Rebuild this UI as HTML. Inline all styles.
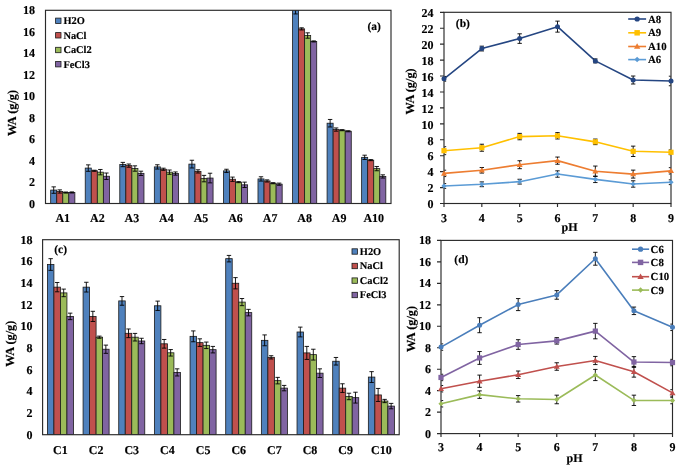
<!DOCTYPE html>
<html><head><meta charset="utf-8"><style>
html,body{margin:0;padding:0;background:#fff;}
body{width:685px;height:469px;overflow:hidden;}
svg{display:block;will-change:transform;}
text{font-family:"Liberation Serif", serif;font-weight:bold;fill:#000;text-rendering:geometricPrecision;stroke:#000;stroke-width:0.15px;}
</style></head><body>
<svg width="685" height="469" viewBox="0 0 685 469">
<rect width="685" height="469" fill="#fff"/>
<clipPath id="ca"><rect x="45.5" y="10.3" width="345.5" height="193.2"/></clipPath>
<g clip-path="url(#ca)">
<rect x="50.68" y="190.08" width="6.05" height="13.42" fill="#4F81BD" stroke="#1a1a1a" stroke-width="0.8"/>
<rect x="56.73" y="191.48" width="6.05" height="12.02" fill="#C0504D" stroke="#1a1a1a" stroke-width="0.8"/>
<rect x="62.78" y="192.55" width="6.05" height="10.95" fill="#9BBB59" stroke="#1a1a1a" stroke-width="0.8"/>
<rect x="68.82" y="192.44" width="6.05" height="11.06" fill="#8064A2" stroke="#1a1a1a" stroke-width="0.8"/>
<path d="M53.71 186.86V193.3M51.51 186.86H55.91M51.51 193.3H55.91" stroke="#000" stroke-width="0.9" fill="none"/>
<path d="M59.75 189.87V193.09M57.55 189.87H61.95M57.55 193.09H61.95" stroke="#000" stroke-width="0.9" fill="none"/>
<path d="M65.8 192.02V193.09M63.6 192.02H68M63.6 193.09H68" stroke="#000" stroke-width="0.9" fill="none"/>
<path d="M71.84 191.91V192.98M69.64 191.91H74.04M69.64 192.98H74.04" stroke="#000" stroke-width="0.9" fill="none"/>
<rect x="85.23" y="168.08" width="6.05" height="35.42" fill="#4F81BD" stroke="#1a1a1a" stroke-width="0.8"/>
<rect x="91.28" y="170.76" width="6.05" height="32.74" fill="#C0504D" stroke="#1a1a1a" stroke-width="0.8"/>
<rect x="97.32" y="172.16" width="6.05" height="31.34" fill="#9BBB59" stroke="#1a1a1a" stroke-width="0.8"/>
<rect x="103.37" y="176.24" width="6.05" height="27.26" fill="#8064A2" stroke="#1a1a1a" stroke-width="0.8"/>
<path d="M88.26 164.86V171.3M86.06 164.86H90.46M86.06 171.3H90.46" stroke="#000" stroke-width="0.9" fill="none"/>
<path d="M94.3 170.23V171.3M92.1 170.23H96.5M92.1 171.3H96.5" stroke="#000" stroke-width="0.9" fill="none"/>
<path d="M100.35 169.48V174.84M98.15 169.48H102.55M98.15 174.84H102.55" stroke="#000" stroke-width="0.9" fill="none"/>
<path d="M106.39 173.02V179.46M104.19 173.02H108.59M104.19 179.46H108.59" stroke="#000" stroke-width="0.9" fill="none"/>
<rect x="119.78" y="164.54" width="6.05" height="38.96" fill="#4F81BD" stroke="#1a1a1a" stroke-width="0.8"/>
<rect x="125.83" y="165.61" width="6.05" height="37.89" fill="#C0504D" stroke="#1a1a1a" stroke-width="0.8"/>
<rect x="131.88" y="168.51" width="6.05" height="34.99" fill="#9BBB59" stroke="#1a1a1a" stroke-width="0.8"/>
<rect x="137.92" y="173.34" width="6.05" height="30.16" fill="#8064A2" stroke="#1a1a1a" stroke-width="0.8"/>
<path d="M122.81 162.39V166.68M120.61 162.39H125.01M120.61 166.68H125.01" stroke="#000" stroke-width="0.9" fill="none"/>
<path d="M128.85 164V167.22M126.65 164H131.05M126.65 167.22H131.05" stroke="#000" stroke-width="0.9" fill="none"/>
<path d="M134.9 165.83V171.19M132.7 165.83H137.1M132.7 171.19H137.1" stroke="#000" stroke-width="0.9" fill="none"/>
<path d="M140.94 171.19V175.49M138.74 171.19H143.14M138.74 175.49H143.14" stroke="#000" stroke-width="0.9" fill="none"/>
<rect x="154.33" y="166.9" width="6.05" height="36.6" fill="#4F81BD" stroke="#1a1a1a" stroke-width="0.8"/>
<rect x="160.38" y="169.26" width="6.05" height="34.24" fill="#C0504D" stroke="#1a1a1a" stroke-width="0.8"/>
<rect x="166.42" y="172.16" width="6.05" height="31.34" fill="#9BBB59" stroke="#1a1a1a" stroke-width="0.8"/>
<rect x="172.47" y="173.55" width="6.05" height="29.95" fill="#8064A2" stroke="#1a1a1a" stroke-width="0.8"/>
<path d="M157.36 164.75V169.05M155.16 164.75H159.56M155.16 169.05H159.56" stroke="#000" stroke-width="0.9" fill="none"/>
<path d="M163.4 168.19V170.33M161.2 168.19H165.6M161.2 170.33H165.6" stroke="#000" stroke-width="0.9" fill="none"/>
<path d="M169.45 170.01V174.31M167.25 170.01H171.65M167.25 174.31H171.65" stroke="#000" stroke-width="0.9" fill="none"/>
<path d="M175.49 171.94V175.16M173.29 171.94H177.69M173.29 175.16H177.69" stroke="#000" stroke-width="0.9" fill="none"/>
<rect x="188.88" y="164.11" width="6.05" height="39.39" fill="#4F81BD" stroke="#1a1a1a" stroke-width="0.8"/>
<rect x="194.93" y="171.41" width="6.05" height="32.09" fill="#C0504D" stroke="#1a1a1a" stroke-width="0.8"/>
<rect x="200.97" y="178.6" width="6.05" height="24.9" fill="#9BBB59" stroke="#1a1a1a" stroke-width="0.8"/>
<rect x="207.02" y="178.06" width="6.05" height="25.44" fill="#8064A2" stroke="#1a1a1a" stroke-width="0.8"/>
<path d="M191.91 160.24V167.97M189.71 160.24H194.11M189.71 167.97H194.11" stroke="#000" stroke-width="0.9" fill="none"/>
<path d="M197.95 169.8V173.02M195.75 169.8H200.15M195.75 173.02H200.15" stroke="#000" stroke-width="0.9" fill="none"/>
<path d="M204 175.38V181.82M201.8 175.38H206.2M201.8 181.82H206.2" stroke="#000" stroke-width="0.9" fill="none"/>
<path d="M210.04 173.23V182.89M207.84 173.23H212.24M207.84 182.89H212.24" stroke="#000" stroke-width="0.9" fill="none"/>
<rect x="223.43" y="170.87" width="6.05" height="32.63" fill="#4F81BD" stroke="#1a1a1a" stroke-width="0.8"/>
<rect x="229.48" y="179.24" width="6.05" height="24.26" fill="#C0504D" stroke="#1a1a1a" stroke-width="0.8"/>
<rect x="235.52" y="182.14" width="6.05" height="21.36" fill="#9BBB59" stroke="#1a1a1a" stroke-width="0.8"/>
<rect x="241.57" y="184.82" width="6.05" height="18.68" fill="#8064A2" stroke="#1a1a1a" stroke-width="0.8"/>
<path d="M226.46 169.26V172.48M224.26 169.26H228.66M224.26 172.48H228.66" stroke="#000" stroke-width="0.9" fill="none"/>
<path d="M232.5 177.1V181.39M230.3 177.1H234.7M230.3 181.39H234.7" stroke="#000" stroke-width="0.9" fill="none"/>
<path d="M238.55 181.6V182.68M236.35 181.6H240.75M236.35 182.68H240.75" stroke="#000" stroke-width="0.9" fill="none"/>
<path d="M244.59 182.14V187.51M242.39 182.14H246.79M242.39 187.51H246.79" stroke="#000" stroke-width="0.9" fill="none"/>
<rect x="257.98" y="178.92" width="6.05" height="24.58" fill="#4F81BD" stroke="#1a1a1a" stroke-width="0.8"/>
<rect x="264.03" y="180.96" width="6.05" height="22.54" fill="#C0504D" stroke="#1a1a1a" stroke-width="0.8"/>
<rect x="270.07" y="183.21" width="6.05" height="20.29" fill="#9BBB59" stroke="#1a1a1a" stroke-width="0.8"/>
<rect x="276.12" y="184.18" width="6.05" height="19.32" fill="#8064A2" stroke="#1a1a1a" stroke-width="0.8"/>
<path d="M261.01 176.77V181.07M258.81 176.77H263.21M258.81 181.07H263.21" stroke="#000" stroke-width="0.9" fill="none"/>
<path d="M267.05 179.89V182.03M264.85 179.89H269.25M264.85 182.03H269.25" stroke="#000" stroke-width="0.9" fill="none"/>
<path d="M273.1 182.68V183.75M270.9 182.68H275.3M270.9 183.75H275.3" stroke="#000" stroke-width="0.9" fill="none"/>
<path d="M279.14 183.11V185.25M276.94 183.11H281.34M276.94 185.25H281.34" stroke="#000" stroke-width="0.9" fill="none"/>
<rect x="292.53" y="9.23" width="6.05" height="194.27" fill="#4F81BD" stroke="#1a1a1a" stroke-width="0.8"/>
<rect x="298.58" y="28.87" width="6.05" height="174.63" fill="#C0504D" stroke="#1a1a1a" stroke-width="0.8"/>
<rect x="304.62" y="35.52" width="6.05" height="167.98" fill="#9BBB59" stroke="#1a1a1a" stroke-width="0.8"/>
<rect x="310.67" y="41.43" width="6.05" height="162.07" fill="#8064A2" stroke="#1a1a1a" stroke-width="0.8"/>
<path d="M295.56 4.5V13.95M293.36 4.5H297.76M293.36 13.95H297.76" stroke="#000" stroke-width="0.9" fill="none"/>
<path d="M301.6 27.8V29.94M299.4 27.8H303.8M299.4 29.94H303.8" stroke="#000" stroke-width="0.9" fill="none"/>
<path d="M307.65 32.84V38.21M305.45 32.84H309.85M305.45 38.21H309.85" stroke="#000" stroke-width="0.9" fill="none"/>
<path d="M313.69 40.89V41.96M311.49 40.89H315.89M311.49 41.96H315.89" stroke="#000" stroke-width="0.9" fill="none"/>
<rect x="327.08" y="123.21" width="6.05" height="80.29" fill="#4F81BD" stroke="#1a1a1a" stroke-width="0.8"/>
<rect x="333.13" y="129.55" width="6.05" height="73.95" fill="#C0504D" stroke="#1a1a1a" stroke-width="0.8"/>
<rect x="339.17" y="130.19" width="6.05" height="73.31" fill="#9BBB59" stroke="#1a1a1a" stroke-width="0.8"/>
<rect x="345.22" y="131.26" width="6.05" height="72.24" fill="#8064A2" stroke="#1a1a1a" stroke-width="0.8"/>
<path d="M330.11 119.46V126.97M327.91 119.46H332.31M327.91 126.97H332.31" stroke="#000" stroke-width="0.9" fill="none"/>
<path d="M336.15 127.94V131.16M333.95 127.94H338.35M333.95 131.16H338.35" stroke="#000" stroke-width="0.9" fill="none"/>
<path d="M342.2 129.65V130.73M340 129.65H344.4M340 130.73H344.4" stroke="#000" stroke-width="0.9" fill="none"/>
<path d="M348.24 130.73V131.8M346.04 130.73H350.44M346.04 131.8H350.44" stroke="#000" stroke-width="0.9" fill="none"/>
<rect x="361.63" y="157.35" width="6.05" height="46.15" fill="#4F81BD" stroke="#1a1a1a" stroke-width="0.8"/>
<rect x="367.68" y="160.14" width="6.05" height="43.36" fill="#C0504D" stroke="#1a1a1a" stroke-width="0.8"/>
<rect x="373.72" y="168.62" width="6.05" height="34.88" fill="#9BBB59" stroke="#1a1a1a" stroke-width="0.8"/>
<rect x="379.77" y="176.45" width="6.05" height="27.05" fill="#8064A2" stroke="#1a1a1a" stroke-width="0.8"/>
<path d="M364.66 155.2V159.49M362.46 155.2H366.86M362.46 159.49H366.86" stroke="#000" stroke-width="0.9" fill="none"/>
<path d="M370.7 159.6V160.67M368.5 159.6H372.9M368.5 160.67H372.9" stroke="#000" stroke-width="0.9" fill="none"/>
<path d="M376.75 166.47V170.76M374.55 166.47H378.95M374.55 170.76H378.95" stroke="#000" stroke-width="0.9" fill="none"/>
<path d="M382.79 174.84V178.06M380.59 174.84H384.99M380.59 178.06H384.99" stroke="#000" stroke-width="0.9" fill="none"/>
</g>
<rect x="45.5" y="10.3" width="345.5" height="193.2" fill="none" stroke="#2a2a2a" stroke-width="1.15"/>
<text x="34.9" y="207.56" font-size="12" text-anchor="end">0</text>
<text x="34.9" y="186.09" font-size="12" text-anchor="end">2</text>
<text x="34.9" y="164.62" font-size="12" text-anchor="end">4</text>
<text x="34.9" y="143.16" font-size="12" text-anchor="end">6</text>
<text x="34.9" y="121.69" font-size="12" text-anchor="end">8</text>
<text x="34.9" y="100.22" font-size="12" text-anchor="end">10</text>
<text x="34.9" y="78.76" font-size="12" text-anchor="end">12</text>
<text x="34.9" y="57.29" font-size="12" text-anchor="end">14</text>
<text x="34.9" y="35.82" font-size="12" text-anchor="end">16</text>
<text x="34.9" y="14.36" font-size="12" text-anchor="end">18</text>
<text x="62.77" y="222" font-size="12" text-anchor="middle">A1</text>
<text x="97.32" y="222" font-size="12" text-anchor="middle">A2</text>
<text x="131.88" y="222" font-size="12" text-anchor="middle">A3</text>
<text x="166.42" y="222" font-size="12" text-anchor="middle">A4</text>
<text x="200.97" y="222" font-size="12" text-anchor="middle">A5</text>
<text x="235.52" y="222" font-size="12" text-anchor="middle">A6</text>
<text x="270.07" y="222" font-size="12" text-anchor="middle">A7</text>
<text x="304.62" y="222" font-size="12" text-anchor="middle">A8</text>
<text x="339.17" y="222" font-size="12" text-anchor="middle">A9</text>
<text x="373.72" y="222" font-size="12" text-anchor="middle">A10</text>
<text x="374.2" y="29.5" font-size="11.5" text-anchor="middle">(a)</text>
<rect x="55.6" y="18.1" width="5.4" height="5.4" fill="#4F81BD" stroke="#1a1a1a" stroke-width="0.8"/>
<text x="63.4" y="24.24" font-size="10.4" text-anchor="start">H2O</text>
<rect x="55.6" y="32.6" width="5.4" height="5.4" fill="#C0504D" stroke="#1a1a1a" stroke-width="0.8"/>
<text x="63.4" y="38.74" font-size="10.4" text-anchor="start">NaCl</text>
<rect x="55.6" y="47.3" width="5.4" height="5.4" fill="#9BBB59" stroke="#1a1a1a" stroke-width="0.8"/>
<text x="63.4" y="53.44" font-size="10.4" text-anchor="start">CaCl2</text>
<rect x="55.6" y="61.5" width="5.4" height="5.4" fill="#8064A2" stroke="#1a1a1a" stroke-width="0.8"/>
<text x="63.4" y="67.64" font-size="10.4" text-anchor="start">FeCl3</text>
<text transform="translate(12.2 113) rotate(-90)" x="0" y="4.07" font-size="12.3" text-anchor="middle">WA (g/g)</text>
<clipPath id="cc"><rect x="42.6" y="239.7" width="356.6" height="195"/></clipPath>
<g clip-path="url(#cc)">
<rect x="47.41" y="264.51" width="6.51" height="170.19" fill="#4F81BD" stroke="#1a1a1a" stroke-width="0.8"/>
<rect x="53.92" y="287.15" width="6.51" height="147.55" fill="#C0504D" stroke="#1a1a1a" stroke-width="0.8"/>
<rect x="60.43" y="292.89" width="6.51" height="141.81" fill="#9BBB59" stroke="#1a1a1a" stroke-width="0.8"/>
<rect x="66.94" y="316.4" width="6.51" height="118.3" fill="#8064A2" stroke="#1a1a1a" stroke-width="0.8"/>
<path d="M50.67 258.66V270.36M48.47 258.66H52.87M48.47 270.36H52.87" stroke="#000" stroke-width="0.9" fill="none"/>
<path d="M57.18 282.49V291.81M54.98 282.49H59.38M54.98 291.81H59.38" stroke="#000" stroke-width="0.9" fill="none"/>
<path d="M63.68 289.1V296.68M61.48 289.1H65.88M61.48 296.68H65.88" stroke="#000" stroke-width="0.9" fill="none"/>
<path d="M70.19 313.15V319.65M67.99 313.15H72.39M67.99 319.65H72.39" stroke="#000" stroke-width="0.9" fill="none"/>
<rect x="83.07" y="287.15" width="6.51" height="147.55" fill="#4F81BD" stroke="#1a1a1a" stroke-width="0.8"/>
<rect x="89.58" y="316.4" width="6.51" height="118.3" fill="#C0504D" stroke="#1a1a1a" stroke-width="0.8"/>
<rect x="96.09" y="337.2" width="6.51" height="97.5" fill="#9BBB59" stroke="#1a1a1a" stroke-width="0.8"/>
<rect x="102.6" y="349.23" width="6.51" height="85.47" fill="#8064A2" stroke="#1a1a1a" stroke-width="0.8"/>
<path d="M86.33 282.27V292.02M84.13 282.27H88.53M84.13 292.02H88.53" stroke="#000" stroke-width="0.9" fill="none"/>
<path d="M92.84 311.31V321.49M90.64 311.31H95.04M90.64 321.49H95.04" stroke="#000" stroke-width="0.9" fill="none"/>
<path d="M99.34 336.12V338.28M97.14 336.12H101.54M97.14 338.28H101.54" stroke="#000" stroke-width="0.9" fill="none"/>
<path d="M105.85 345.11V353.34M103.65 345.11H108.05M103.65 353.34H108.05" stroke="#000" stroke-width="0.9" fill="none"/>
<rect x="118.73" y="300.91" width="6.51" height="133.79" fill="#4F81BD" stroke="#1a1a1a" stroke-width="0.8"/>
<rect x="125.24" y="333.3" width="6.51" height="101.4" fill="#C0504D" stroke="#1a1a1a" stroke-width="0.8"/>
<rect x="131.75" y="337.2" width="6.51" height="97.5" fill="#9BBB59" stroke="#1a1a1a" stroke-width="0.8"/>
<rect x="138.26" y="340.99" width="6.51" height="93.71" fill="#8064A2" stroke="#1a1a1a" stroke-width="0.8"/>
<path d="M121.99 296.57V305.24M119.79 296.57H124.19M119.79 305.24H124.19" stroke="#000" stroke-width="0.9" fill="none"/>
<path d="M128.5 328.97V337.63M126.3 328.97H130.7M126.3 337.63H130.7" stroke="#000" stroke-width="0.9" fill="none"/>
<path d="M135 333.41V340.99M132.8 333.41H137.2M132.8 340.99H137.2" stroke="#000" stroke-width="0.9" fill="none"/>
<path d="M141.51 338.28V343.7M139.31 338.28H143.71M139.31 343.7H143.71" stroke="#000" stroke-width="0.9" fill="none"/>
<rect x="154.39" y="305.78" width="6.51" height="128.92" fill="#4F81BD" stroke="#1a1a1a" stroke-width="0.8"/>
<rect x="160.9" y="343.81" width="6.51" height="90.89" fill="#C0504D" stroke="#1a1a1a" stroke-width="0.8"/>
<rect x="167.41" y="352.8" width="6.51" height="81.9" fill="#9BBB59" stroke="#1a1a1a" stroke-width="0.8"/>
<rect x="173.92" y="372.41" width="6.51" height="62.29" fill="#8064A2" stroke="#1a1a1a" stroke-width="0.8"/>
<path d="M157.65 301.12V310.44M155.45 301.12H159.85M155.45 310.44H159.85" stroke="#000" stroke-width="0.9" fill="none"/>
<path d="M164.16 339.47V348.14M161.96 339.47H166.36M161.96 348.14H166.36" stroke="#000" stroke-width="0.9" fill="none"/>
<path d="M170.66 349.55V356.05M168.46 349.55H172.86M168.46 356.05H172.86" stroke="#000" stroke-width="0.9" fill="none"/>
<path d="M177.17 368.83V375.98M174.97 368.83H179.37M174.97 375.98H179.37" stroke="#000" stroke-width="0.9" fill="none"/>
<rect x="190.05" y="336.33" width="6.51" height="98.37" fill="#4F81BD" stroke="#1a1a1a" stroke-width="0.8"/>
<rect x="196.56" y="342.62" width="6.51" height="92.08" fill="#C0504D" stroke="#1a1a1a" stroke-width="0.8"/>
<rect x="203.07" y="345.32" width="6.51" height="89.38" fill="#9BBB59" stroke="#1a1a1a" stroke-width="0.8"/>
<rect x="209.58" y="349.66" width="6.51" height="85.04" fill="#8064A2" stroke="#1a1a1a" stroke-width="0.8"/>
<path d="M193.31 330.92V341.75M191.11 330.92H195.51M191.11 341.75H195.51" stroke="#000" stroke-width="0.9" fill="none"/>
<path d="M199.82 338.82V346.41M197.62 338.82H202.02M197.62 346.41H202.02" stroke="#000" stroke-width="0.9" fill="none"/>
<path d="M206.32 342.07V348.57M204.12 342.07H208.52M204.12 348.57H208.52" stroke="#000" stroke-width="0.9" fill="none"/>
<path d="M212.83 346.41V352.91M210.63 346.41H215.03M210.63 352.91H215.03" stroke="#000" stroke-width="0.9" fill="none"/>
<rect x="225.71" y="258.66" width="6.51" height="176.04" fill="#4F81BD" stroke="#1a1a1a" stroke-width="0.8"/>
<rect x="232.22" y="283.25" width="6.51" height="151.45" fill="#C0504D" stroke="#1a1a1a" stroke-width="0.8"/>
<rect x="238.73" y="302.1" width="6.51" height="132.6" fill="#9BBB59" stroke="#1a1a1a" stroke-width="0.8"/>
<rect x="245.24" y="312.61" width="6.51" height="122.09" fill="#8064A2" stroke="#1a1a1a" stroke-width="0.8"/>
<path d="M228.97 255.41V261.91M226.77 255.41H231.17M226.77 261.91H231.17" stroke="#000" stroke-width="0.9" fill="none"/>
<path d="M235.48 277.62V288.88M233.28 277.62H237.68M233.28 288.88H237.68" stroke="#000" stroke-width="0.9" fill="none"/>
<path d="M241.98 298.52V305.67M239.78 298.52H244.18M239.78 305.67H244.18" stroke="#000" stroke-width="0.9" fill="none"/>
<path d="M248.49 309.36V315.86M246.29 309.36H250.69M246.29 315.86H250.69" stroke="#000" stroke-width="0.9" fill="none"/>
<rect x="261.37" y="340.34" width="6.51" height="94.36" fill="#4F81BD" stroke="#1a1a1a" stroke-width="0.8"/>
<rect x="267.88" y="357.35" width="6.51" height="77.35" fill="#C0504D" stroke="#1a1a1a" stroke-width="0.8"/>
<rect x="274.39" y="380.64" width="6.51" height="54.06" fill="#9BBB59" stroke="#1a1a1a" stroke-width="0.8"/>
<rect x="280.9" y="388.12" width="6.51" height="46.58" fill="#8064A2" stroke="#1a1a1a" stroke-width="0.8"/>
<path d="M264.63 334.92V345.76M262.43 334.92H266.83M262.43 345.76H266.83" stroke="#000" stroke-width="0.9" fill="none"/>
<path d="M271.14 355.73V358.98M268.94 355.73H273.34M268.94 358.98H273.34" stroke="#000" stroke-width="0.9" fill="none"/>
<path d="M277.64 377.39V383.89M275.44 377.39H279.84M275.44 383.89H279.84" stroke="#000" stroke-width="0.9" fill="none"/>
<path d="M284.15 385.41V390.82M281.95 385.41H286.35M281.95 390.82H286.35" stroke="#000" stroke-width="0.9" fill="none"/>
<rect x="297.03" y="332" width="6.51" height="102.7" fill="#4F81BD" stroke="#1a1a1a" stroke-width="0.8"/>
<rect x="303.54" y="352.91" width="6.51" height="81.79" fill="#C0504D" stroke="#1a1a1a" stroke-width="0.8"/>
<rect x="310.05" y="354.64" width="6.51" height="80.06" fill="#9BBB59" stroke="#1a1a1a" stroke-width="0.8"/>
<rect x="316.56" y="373.17" width="6.51" height="61.53" fill="#8064A2" stroke="#1a1a1a" stroke-width="0.8"/>
<path d="M300.29 327.12V336.88M298.09 327.12H302.49M298.09 336.88H302.49" stroke="#000" stroke-width="0.9" fill="none"/>
<path d="M306.8 346.41V359.41M304.6 346.41H309M304.6 359.41H309" stroke="#000" stroke-width="0.9" fill="none"/>
<path d="M313.3 349.22V360.06M311.1 349.22H315.5M311.1 360.06H315.5" stroke="#000" stroke-width="0.9" fill="none"/>
<path d="M319.81 368.83V377.5M317.61 368.83H322.01M317.61 377.5H322.01" stroke="#000" stroke-width="0.9" fill="none"/>
<rect x="332.69" y="361.25" width="6.51" height="73.45" fill="#4F81BD" stroke="#1a1a1a" stroke-width="0.8"/>
<rect x="339.2" y="388.12" width="6.51" height="46.58" fill="#C0504D" stroke="#1a1a1a" stroke-width="0.8"/>
<rect x="345.71" y="396.46" width="6.51" height="38.24" fill="#9BBB59" stroke="#1a1a1a" stroke-width="0.8"/>
<rect x="352.22" y="397.65" width="6.51" height="37.05" fill="#8064A2" stroke="#1a1a1a" stroke-width="0.8"/>
<path d="M335.95 357.46V365.04M333.75 357.46H338.15M333.75 365.04H338.15" stroke="#000" stroke-width="0.9" fill="none"/>
<path d="M342.46 383.78V392.45M340.26 383.78H344.66M340.26 392.45H344.66" stroke="#000" stroke-width="0.9" fill="none"/>
<path d="M348.96 393.21V399.71M346.76 393.21H351.16M346.76 399.71H351.16" stroke="#000" stroke-width="0.9" fill="none"/>
<path d="M355.47 392.23V403.07M353.27 392.23H357.67M353.27 403.07H357.67" stroke="#000" stroke-width="0.9" fill="none"/>
<rect x="368.35" y="377.07" width="6.51" height="57.63" fill="#4F81BD" stroke="#1a1a1a" stroke-width="0.8"/>
<rect x="374.86" y="394.94" width="6.51" height="39.76" fill="#C0504D" stroke="#1a1a1a" stroke-width="0.8"/>
<rect x="381.37" y="401.01" width="6.51" height="33.69" fill="#9BBB59" stroke="#1a1a1a" stroke-width="0.8"/>
<rect x="387.88" y="406.1" width="6.51" height="28.6" fill="#8064A2" stroke="#1a1a1a" stroke-width="0.8"/>
<path d="M371.61 371.65V382.48M369.41 371.65H373.81M369.41 382.48H373.81" stroke="#000" stroke-width="0.9" fill="none"/>
<path d="M378.12 388.44V401.44M375.92 388.44H380.32M375.92 401.44H380.32" stroke="#000" stroke-width="0.9" fill="none"/>
<path d="M384.62 399.38V402.63M382.42 399.38H386.82M382.42 402.63H386.82" stroke="#000" stroke-width="0.9" fill="none"/>
<path d="M391.13 403.39V408.81M388.93 403.39H393.33M388.93 408.81H393.33" stroke="#000" stroke-width="0.9" fill="none"/>
</g>
<rect x="42.6" y="239.7" width="356.6" height="195" fill="none" stroke="#2a2a2a" stroke-width="1.15"/>
<text x="32.6" y="438.76" font-size="12" text-anchor="end">0</text>
<text x="32.6" y="417.09" font-size="12" text-anchor="end">2</text>
<text x="32.6" y="395.42" font-size="12" text-anchor="end">4</text>
<text x="32.6" y="373.76" font-size="12" text-anchor="end">6</text>
<text x="32.6" y="352.09" font-size="12" text-anchor="end">8</text>
<text x="32.6" y="330.42" font-size="12" text-anchor="end">10</text>
<text x="32.6" y="308.76" font-size="12" text-anchor="end">12</text>
<text x="32.6" y="287.09" font-size="12" text-anchor="end">14</text>
<text x="32.6" y="265.42" font-size="12" text-anchor="end">16</text>
<text x="32.6" y="243.76" font-size="12" text-anchor="end">18</text>
<text x="60.43" y="453.7" font-size="12" text-anchor="middle">C1</text>
<text x="96.09" y="453.7" font-size="12" text-anchor="middle">C2</text>
<text x="131.75" y="453.7" font-size="12" text-anchor="middle">C3</text>
<text x="167.41" y="453.7" font-size="12" text-anchor="middle">C4</text>
<text x="203.07" y="453.7" font-size="12" text-anchor="middle">C5</text>
<text x="238.73" y="453.7" font-size="12" text-anchor="middle">C6</text>
<text x="274.39" y="453.7" font-size="12" text-anchor="middle">C7</text>
<text x="310.05" y="453.7" font-size="12" text-anchor="middle">C8</text>
<text x="345.71" y="453.7" font-size="12" text-anchor="middle">C9</text>
<text x="381.37" y="453.7" font-size="12" text-anchor="middle">C10</text>
<text x="60.6" y="252.9" font-size="11.5" text-anchor="middle">(c)</text>
<rect x="352" y="248.8" width="5.4" height="5.4" fill="#4F81BD" stroke="#1a1a1a" stroke-width="0.8"/>
<text x="359.8" y="254.94" font-size="10.4" text-anchor="start">H2O</text>
<rect x="352" y="263.3" width="5.4" height="5.4" fill="#C0504D" stroke="#1a1a1a" stroke-width="0.8"/>
<text x="359.8" y="269.44" font-size="10.4" text-anchor="start">NaCl</text>
<rect x="352" y="277.9" width="5.4" height="5.4" fill="#9BBB59" stroke="#1a1a1a" stroke-width="0.8"/>
<text x="359.8" y="284.04" font-size="10.4" text-anchor="start">CaCl2</text>
<rect x="352" y="292.3" width="5.4" height="5.4" fill="#8064A2" stroke="#1a1a1a" stroke-width="0.8"/>
<text x="359.8" y="298.44" font-size="10.4" text-anchor="start">FeCl3</text>
<text transform="translate(9.8 343.7) rotate(-90)" x="0" y="4.07" font-size="12.3" text-anchor="middle">WA (g/g)</text>
<clipPath id="cb"><rect x="444.5" y="12.3" width="226" height="191.2"/></clipPath>
<rect x="444" y="12.3" width="227" height="191.2" fill="none" stroke="#2a2a2a" stroke-width="1.15"/>
<path d="M440 203.5H444M440 187.57H444M440 171.63H444M440 155.7H444M440 139.77H444M440 123.83H444M440 107.9H444M440 91.97H444M440 76.03H444M440 60.1H444M440 44.17H444M440 28.23H444M440 12.3H444M444 203.5V207M481.83 203.5V207M519.67 203.5V207M557.5 203.5V207M595.33 203.5V207M633.17 203.5V207M671 203.5V207" stroke="#2a2a2a" stroke-width="1.15" fill="none"/>
<text x="433.6" y="208.26" font-size="12" text-anchor="end">0</text>
<text x="433.6" y="192.32" font-size="12" text-anchor="end">2</text>
<text x="433.6" y="176.39" font-size="12" text-anchor="end">4</text>
<text x="433.6" y="160.46" font-size="12" text-anchor="end">6</text>
<text x="433.6" y="144.52" font-size="12" text-anchor="end">8</text>
<text x="433.6" y="128.59" font-size="12" text-anchor="end">10</text>
<text x="433.6" y="112.66" font-size="12" text-anchor="end">12</text>
<text x="433.6" y="96.72" font-size="12" text-anchor="end">14</text>
<text x="433.6" y="80.79" font-size="12" text-anchor="end">16</text>
<text x="433.6" y="64.86" font-size="12" text-anchor="end">18</text>
<text x="433.6" y="48.92" font-size="12" text-anchor="end">20</text>
<text x="433.6" y="32.99" font-size="12" text-anchor="end">22</text>
<text x="433.6" y="17.06" font-size="12" text-anchor="end">24</text>
<text x="444" y="221.5" font-size="12" text-anchor="middle">3</text>
<text x="481.83" y="221.5" font-size="12" text-anchor="middle">4</text>
<text x="519.67" y="221.5" font-size="12" text-anchor="middle">5</text>
<text x="557.5" y="221.5" font-size="12" text-anchor="middle">6</text>
<text x="595.33" y="221.5" font-size="12" text-anchor="middle">7</text>
<text x="633.17" y="221.5" font-size="12" text-anchor="middle">8</text>
<text x="671" y="221.5" font-size="12" text-anchor="middle">9</text>
<text x="569.5" y="230.5" font-size="12" text-anchor="middle">pH</text>
<path d="M444 78.82 L481.83 48.55 L519.67 38.59 L557.5 26.64 L595.33 60.9 L633.17 80.02 L671 80.97" stroke="#254682" stroke-width="1.6" fill="none" stroke-linejoin="round"/>
<g clip-path="url(#cb)">
<path d="M444 76.43V81.21M441.8 76.43H446.2M441.8 81.21H446.2" stroke="#000" stroke-width="0.9" fill="none"/>
<path d="M481.83 46.16V50.94M479.63 46.16H484.03M479.63 50.94H484.03" stroke="#000" stroke-width="0.9" fill="none"/>
<path d="M519.67 33.81V43.37M517.47 33.81H521.87M517.47 43.37H521.87" stroke="#000" stroke-width="0.9" fill="none"/>
<path d="M557.5 21.14V32.14M555.3 21.14H559.7M555.3 32.14H559.7" stroke="#000" stroke-width="0.9" fill="none"/>
<path d="M595.33 58.91V62.89M593.13 58.91H597.53M593.13 62.89H597.53" stroke="#000" stroke-width="0.9" fill="none"/>
<path d="M633.17 76.03V84M630.97 76.03H635.37M630.97 84H635.37" stroke="#000" stroke-width="0.9" fill="none"/>
<path d="M671 76.19V85.75M668.8 76.19H673.2M668.8 85.75H673.2" stroke="#000" stroke-width="0.9" fill="none"/>
</g>
<circle cx="444" cy="78.82" r="2.5" fill="#254682"/>
<circle cx="481.83" cy="48.55" r="2.5" fill="#254682"/>
<circle cx="519.67" cy="38.59" r="2.5" fill="#254682"/>
<circle cx="557.5" cy="26.64" r="2.5" fill="#254682"/>
<circle cx="595.33" cy="60.9" r="2.5" fill="#254682"/>
<circle cx="633.17" cy="80.02" r="2.5" fill="#254682"/>
<circle cx="671" cy="80.97" r="2.5" fill="#254682"/>
<path d="M444 150.68 L481.83 147.73 L519.67 136.58 L557.5 135.78 L595.33 141.84 L633.17 151.32 L671 152.27" stroke="#FFC000" stroke-width="1.6" fill="none" stroke-linejoin="round"/>
<g clip-path="url(#cb)">
<path d="M444 146.7V154.66M441.8 146.7H446.2M441.8 154.66H446.2" stroke="#000" stroke-width="0.9" fill="none"/>
<path d="M481.83 144.23V151.24M479.63 144.23H484.03M479.63 151.24H484.03" stroke="#000" stroke-width="0.9" fill="none"/>
<path d="M519.67 133.39V139.77M517.47 133.39H521.87M517.47 139.77H521.87" stroke="#000" stroke-width="0.9" fill="none"/>
<path d="M557.5 132.6V138.97M555.3 132.6H559.7M555.3 138.97H559.7" stroke="#000" stroke-width="0.9" fill="none"/>
<path d="M595.33 139.05V144.63M593.13 139.05H597.53M593.13 144.63H597.53" stroke="#000" stroke-width="0.9" fill="none"/>
<path d="M633.17 146.14V156.5M630.97 146.14H635.37M630.97 156.5H635.37" stroke="#000" stroke-width="0.9" fill="none"/>
<path d="M671 149.88V154.66M668.8 149.88H673.2M668.8 154.66H673.2" stroke="#000" stroke-width="0.9" fill="none"/>
</g>
<rect x="441.4" y="148.08" width="5.2" height="5.2" fill="#FFC000"/>
<rect x="479.23" y="145.13" width="5.2" height="5.2" fill="#FFC000"/>
<rect x="517.07" y="133.98" width="5.2" height="5.2" fill="#FFC000"/>
<rect x="554.9" y="133.18" width="5.2" height="5.2" fill="#FFC000"/>
<rect x="592.73" y="139.24" width="5.2" height="5.2" fill="#FFC000"/>
<rect x="630.57" y="148.72" width="5.2" height="5.2" fill="#FFC000"/>
<rect x="668.4" y="149.67" width="5.2" height="5.2" fill="#FFC000"/>
<path d="M444 173.39 L481.83 170.28 L519.67 164.7 L557.5 160.64 L595.33 171.24 L633.17 174.1 L671 170.84" stroke="#ED7D31" stroke-width="1.6" fill="none" stroke-linejoin="round"/>
<g clip-path="url(#cb)">
<path d="M444 170.2V176.57M441.8 170.2H446.2M441.8 176.57H446.2" stroke="#000" stroke-width="0.9" fill="none"/>
<path d="M481.83 167.49V173.07M479.63 167.49H484.03M479.63 173.07H484.03" stroke="#000" stroke-width="0.9" fill="none"/>
<path d="M519.67 160.72V168.69M517.47 160.72H521.87M517.47 168.69H521.87" stroke="#000" stroke-width="0.9" fill="none"/>
<path d="M557.5 157.05V164.22M555.3 157.05H559.7M555.3 164.22H559.7" stroke="#000" stroke-width="0.9" fill="none"/>
<path d="M595.33 166.06V176.41M593.13 166.06H597.53M593.13 176.41H597.53" stroke="#000" stroke-width="0.9" fill="none"/>
<path d="M633.17 170.12V178.09M630.97 170.12H635.37M630.97 178.09H635.37" stroke="#000" stroke-width="0.9" fill="none"/>
<path d="M671 167.65V174.02M668.8 167.65H673.2M668.8 174.02H673.2" stroke="#000" stroke-width="0.9" fill="none"/>
</g>
<path d="M444 170.39L447 175.64L441 175.64Z" fill="#ED7D31"/>
<path d="M481.83 167.28L484.83 172.53L478.83 172.53Z" fill="#ED7D31"/>
<path d="M519.67 161.7L522.67 166.95L516.67 166.95Z" fill="#ED7D31"/>
<path d="M557.5 157.64L560.5 162.89L554.5 162.89Z" fill="#ED7D31"/>
<path d="M595.33 168.24L598.33 173.49L592.33 173.49Z" fill="#ED7D31"/>
<path d="M633.17 171.1L636.17 176.35L630.17 176.35Z" fill="#ED7D31"/>
<path d="M671 167.84L674 173.09L668 173.09Z" fill="#ED7D31"/>
<path d="M444 185.97 L481.83 184.3 L519.67 181.67 L557.5 174.02 L595.33 179.36 L633.17 183.98 L671 182.23" stroke="#5B9BD5" stroke-width="1.6" fill="none" stroke-linejoin="round"/>
<g clip-path="url(#cb)">
<path d="M444 183.58V188.36M441.8 183.58H446.2M441.8 188.36H446.2" stroke="#000" stroke-width="0.9" fill="none"/>
<path d="M481.83 181.91V186.69M479.63 181.91H484.03M479.63 186.69H484.03" stroke="#000" stroke-width="0.9" fill="none"/>
<path d="M519.67 179.28V184.06M517.47 179.28H521.87M517.47 184.06H521.87" stroke="#000" stroke-width="0.9" fill="none"/>
<path d="M557.5 170.84V177.21M555.3 170.84H559.7M555.3 177.21H559.7" stroke="#000" stroke-width="0.9" fill="none"/>
<path d="M595.33 176.17V182.55M593.13 176.17H597.53M593.13 182.55H597.53" stroke="#000" stroke-width="0.9" fill="none"/>
<path d="M633.17 180.79V187.17M630.97 180.79H635.37M630.97 187.17H635.37" stroke="#000" stroke-width="0.9" fill="none"/>
<path d="M671 179.84V184.62M668.8 179.84H673.2M668.8 184.62H673.2" stroke="#000" stroke-width="0.9" fill="none"/>
</g>
<path d="M444 183.37L446.6 185.97L444 188.57L441.4 185.97Z" fill="#5B9BD5"/>
<path d="M481.83 181.7L484.43 184.3L481.83 186.9L479.23 184.3Z" fill="#5B9BD5"/>
<path d="M519.67 179.07L522.27 181.67L519.67 184.27L517.07 181.67Z" fill="#5B9BD5"/>
<path d="M557.5 171.42L560.1 174.02L557.5 176.62L554.9 174.02Z" fill="#5B9BD5"/>
<path d="M595.33 176.76L597.93 179.36L595.33 181.96L592.73 179.36Z" fill="#5B9BD5"/>
<path d="M633.17 181.38L635.77 183.98L633.17 186.58L630.57 183.98Z" fill="#5B9BD5"/>
<path d="M671 179.63L673.6 182.23L671 184.83L668.4 182.23Z" fill="#5B9BD5"/>
<text x="462.9" y="26.6" font-size="11.5" text-anchor="middle">(b)</text>
<path d="M628.2 19H646.1" stroke="#254682" stroke-width="1.6"/>
<circle cx="637.15" cy="19" r="2.62" fill="#254682"/>
<text x="648" y="22.57" font-size="10.8" text-anchor="start">A8</text>
<path d="M628.2 32.8H646.1" stroke="#FFC000" stroke-width="1.6"/>
<rect x="634.42" y="30.07" width="5.46" height="5.46" fill="#FFC000"/>
<text x="648" y="36.37" font-size="10.8" text-anchor="start">A9</text>
<path d="M628.2 46.5H646.1" stroke="#ED7D31" stroke-width="1.6"/>
<path d="M637.15 43.35L640.3 48.86L634 48.86Z" fill="#ED7D31"/>
<text x="648" y="50.07" font-size="10.8" text-anchor="start">A10</text>
<path d="M628.2 59.6H646.1" stroke="#5B9BD5" stroke-width="1.6"/>
<path d="M637.15 56.87L639.88 59.6L637.15 62.33L634.42 59.6Z" fill="#5B9BD5"/>
<text x="648" y="63.17" font-size="10.8" text-anchor="start">A6</text>
<text transform="translate(410 91.4) rotate(-90)" x="0" y="4.07" font-size="12.3" text-anchor="middle">WA (g/g)</text>
<clipPath id="cd"><rect x="441.5" y="240.4" width="230.5" height="193.2"/></clipPath>
<rect x="441" y="240.4" width="231.5" height="193.2" fill="none" stroke="#2a2a2a" stroke-width="1.15"/>
<path d="M437 433.6H441M437 412.13H441M437 390.67H441M437 369.2H441M437 347.73H441M437 326.27H441M437 304.8H441M437 283.33H441M437 261.87H441M437 240.4H441M441 433.6V437.1M479.58 433.6V437.1M518.17 433.6V437.1M556.75 433.6V437.1M595.33 433.6V437.1M633.92 433.6V437.1M672.5 433.6V437.1" stroke="#2a2a2a" stroke-width="1.15" fill="none"/>
<text x="431" y="437.66" font-size="12" text-anchor="end">0</text>
<text x="431" y="416.19" font-size="12" text-anchor="end">2</text>
<text x="431" y="394.72" font-size="12" text-anchor="end">4</text>
<text x="431" y="373.26" font-size="12" text-anchor="end">6</text>
<text x="431" y="351.79" font-size="12" text-anchor="end">8</text>
<text x="431" y="330.32" font-size="12" text-anchor="end">10</text>
<text x="431" y="308.86" font-size="12" text-anchor="end">12</text>
<text x="431" y="287.39" font-size="12" text-anchor="end">14</text>
<text x="431" y="265.92" font-size="12" text-anchor="end">16</text>
<text x="431" y="244.46" font-size="12" text-anchor="end">18</text>
<text x="441" y="451" font-size="12" text-anchor="middle">3</text>
<text x="479.58" y="451" font-size="12" text-anchor="middle">4</text>
<text x="518.17" y="451" font-size="12" text-anchor="middle">5</text>
<text x="556.75" y="451" font-size="12" text-anchor="middle">6</text>
<text x="595.33" y="451" font-size="12" text-anchor="middle">7</text>
<text x="633.92" y="451" font-size="12" text-anchor="middle">8</text>
<text x="672.5" y="451" font-size="12" text-anchor="middle">9</text>
<text x="574.6" y="461.6" font-size="12" text-anchor="middle">pH</text>
<path d="M441 347.09 L479.58 325.19 L518.17 304.59 L556.75 294.93 L595.33 258.75 L633.92 310.81 L672.5 327.34" stroke="#4A7EBB" stroke-width="1.6" fill="none" stroke-linejoin="round"/>
<g clip-path="url(#cd)">
<path d="M441 343.87V350.31M438.8 343.87H443.2M438.8 350.31H443.2" stroke="#000" stroke-width="0.9" fill="none"/>
<path d="M479.58 317.68V332.71M477.38 317.68H481.78M477.38 332.71H481.78" stroke="#000" stroke-width="0.9" fill="none"/>
<path d="M518.17 298.57V310.6M515.97 298.57H520.37M515.97 310.6H520.37" stroke="#000" stroke-width="0.9" fill="none"/>
<path d="M556.75 290.63V299.22M554.55 290.63H558.95M554.55 299.22H558.95" stroke="#000" stroke-width="0.9" fill="none"/>
<path d="M595.33 252.31V265.19M593.13 252.31H597.53M593.13 265.19H597.53" stroke="#000" stroke-width="0.9" fill="none"/>
<path d="M633.92 307.05V314.57M631.72 307.05H636.12M631.72 314.57H636.12" stroke="#000" stroke-width="0.9" fill="none"/>
<path d="M672.5 324.12V330.56M670.3 324.12H674.7M670.3 330.56H674.7" stroke="#000" stroke-width="0.9" fill="none"/>
</g>
<circle cx="441" cy="347.09" r="2.5" fill="#4A7EBB"/>
<circle cx="479.58" cy="325.19" r="2.5" fill="#4A7EBB"/>
<circle cx="518.17" cy="304.59" r="2.5" fill="#4A7EBB"/>
<circle cx="556.75" cy="294.93" r="2.5" fill="#4A7EBB"/>
<circle cx="595.33" cy="258.75" r="2.5" fill="#4A7EBB"/>
<circle cx="633.92" cy="310.81" r="2.5" fill="#4A7EBB"/>
<circle cx="672.5" cy="327.34" r="2.5" fill="#4A7EBB"/>
<path d="M441 377.46 L479.58 357.93 L518.17 344.51 L556.75 340.86 L595.33 331.1 L633.92 362.01 L672.5 362.55" stroke="#8064A2" stroke-width="1.6" fill="none" stroke-linejoin="round"/>
<g clip-path="url(#cd)">
<path d="M441 374.24V380.68M438.8 374.24H443.2M438.8 380.68H443.2" stroke="#000" stroke-width="0.9" fill="none"/>
<path d="M479.58 351.49V364.37M477.38 351.49H481.78M477.38 364.37H481.78" stroke="#000" stroke-width="0.9" fill="none"/>
<path d="M518.17 339.68V349.34M515.97 339.68H520.37M515.97 349.34H520.37" stroke="#000" stroke-width="0.9" fill="none"/>
<path d="M556.75 337.64V344.08M554.55 337.64H558.95M554.55 344.08H558.95" stroke="#000" stroke-width="0.9" fill="none"/>
<path d="M595.33 323.37V338.82M593.13 323.37H597.53M593.13 338.82H597.53" stroke="#000" stroke-width="0.9" fill="none"/>
<path d="M633.92 356.64V367.38M631.72 356.64H636.12M631.72 367.38H636.12" stroke="#000" stroke-width="0.9" fill="none"/>
<path d="M672.5 359.33V365.77M670.3 359.33H674.7M670.3 365.77H674.7" stroke="#000" stroke-width="0.9" fill="none"/>
</g>
<rect x="438.4" y="374.86" width="5.2" height="5.2" fill="#8064A2"/>
<rect x="476.98" y="355.33" width="5.2" height="5.2" fill="#8064A2"/>
<rect x="515.57" y="341.91" width="5.2" height="5.2" fill="#8064A2"/>
<rect x="554.15" y="338.26" width="5.2" height="5.2" fill="#8064A2"/>
<rect x="592.73" y="328.5" width="5.2" height="5.2" fill="#8064A2"/>
<rect x="631.32" y="359.41" width="5.2" height="5.2" fill="#8064A2"/>
<rect x="669.9" y="359.95" width="5.2" height="5.2" fill="#8064A2"/>
<path d="M441 388.73 L479.58 381.22 L518.17 374.78 L556.75 366.52 L595.33 360.51 L633.92 371.78 L672.5 392.92" stroke="#C0504D" stroke-width="1.6" fill="none" stroke-linejoin="round"/>
<g clip-path="url(#cd)">
<path d="M441 385.51V391.95M438.8 385.51H443.2M438.8 391.95H443.2" stroke="#000" stroke-width="0.9" fill="none"/>
<path d="M479.58 375.1V387.34M477.38 375.1H481.78M477.38 387.34H481.78" stroke="#000" stroke-width="0.9" fill="none"/>
<path d="M518.17 371.02V378.54M515.97 371.02H520.37M515.97 378.54H520.37" stroke="#000" stroke-width="0.9" fill="none"/>
<path d="M556.75 362.76V370.27M554.55 362.76H558.95M554.55 370.27H558.95" stroke="#000" stroke-width="0.9" fill="none"/>
<path d="M595.33 356.43V364.58M593.13 356.43H597.53M593.13 364.58H597.53" stroke="#000" stroke-width="0.9" fill="none"/>
<path d="M633.92 366.41V377.14M631.72 366.41H636.12M631.72 377.14H636.12" stroke="#000" stroke-width="0.9" fill="none"/>
<path d="M672.5 389.7V396.14M670.3 389.7H674.7M670.3 396.14H674.7" stroke="#000" stroke-width="0.9" fill="none"/>
</g>
<path d="M441 385.73L444 390.98L438 390.98Z" fill="#C0504D"/>
<path d="M479.58 378.22L482.58 383.47L476.58 383.47Z" fill="#C0504D"/>
<path d="M518.17 371.78L521.17 377.03L515.17 377.03Z" fill="#C0504D"/>
<path d="M556.75 363.52L559.75 368.77L553.75 368.77Z" fill="#C0504D"/>
<path d="M595.33 357.51L598.33 362.76L592.33 362.76Z" fill="#C0504D"/>
<path d="M633.92 368.78L636.92 374.03L630.92 374.03Z" fill="#C0504D"/>
<path d="M672.5 389.92L675.5 395.17L669.5 395.17Z" fill="#C0504D"/>
<path d="M441 403.76 L479.58 394.64 L518.17 398.82 L556.75 399.47 L595.33 375 L633.92 400.33 L672.5 400.54" stroke="#9BBB59" stroke-width="1.6" fill="none" stroke-linejoin="round"/>
<g clip-path="url(#cd)">
<path d="M441 400.54V406.98M438.8 400.54H443.2M438.8 406.98H443.2" stroke="#000" stroke-width="0.9" fill="none"/>
<path d="M479.58 390.88V398.39M477.38 390.88H481.78M477.38 398.39H481.78" stroke="#000" stroke-width="0.9" fill="none"/>
<path d="M518.17 395.6V402.04M515.97 395.6H520.37M515.97 402.04H520.37" stroke="#000" stroke-width="0.9" fill="none"/>
<path d="M556.75 395.17V403.76M554.55 395.17H558.95M554.55 403.76H558.95" stroke="#000" stroke-width="0.9" fill="none"/>
<path d="M595.33 369.41V380.58M593.13 369.41H597.53M593.13 380.58H597.53" stroke="#000" stroke-width="0.9" fill="none"/>
<path d="M633.92 395.17V405.48M631.72 395.17H636.12M631.72 405.48H636.12" stroke="#000" stroke-width="0.9" fill="none"/>
<path d="M672.5 397.32V403.76M670.3 397.32H674.7M670.3 403.76H674.7" stroke="#000" stroke-width="0.9" fill="none"/>
</g>
<path d="M441 401.16L443.6 403.76L441 406.36L438.4 403.76Z" fill="#9BBB59"/>
<path d="M479.58 392.04L482.18 394.64L479.58 397.24L476.98 394.64Z" fill="#9BBB59"/>
<path d="M518.17 396.22L520.77 398.82L518.17 401.42L515.57 398.82Z" fill="#9BBB59"/>
<path d="M556.75 396.87L559.35 399.47L556.75 402.07L554.15 399.47Z" fill="#9BBB59"/>
<path d="M595.33 372.4L597.93 375L595.33 377.6L592.73 375Z" fill="#9BBB59"/>
<path d="M633.92 397.73L636.52 400.33L633.92 402.93L631.32 400.33Z" fill="#9BBB59"/>
<path d="M672.5 397.94L675.1 400.54L672.5 403.14L669.9 400.54Z" fill="#9BBB59"/>
<text x="461.4" y="263" font-size="11.5" text-anchor="middle">(d)</text>
<path d="M632 249.2H649.1" stroke="#4A7EBB" stroke-width="1.6"/>
<circle cx="640.55" cy="249.2" r="2.62" fill="#4A7EBB"/>
<text x="650.6" y="252.77" font-size="10.8" text-anchor="start">C6</text>
<path d="M632 262.4H649.1" stroke="#8064A2" stroke-width="1.6"/>
<rect x="637.82" y="259.67" width="5.46" height="5.46" fill="#8064A2"/>
<text x="650.6" y="265.97" font-size="10.8" text-anchor="start">C8</text>
<path d="M632 276.7H649.1" stroke="#C0504D" stroke-width="1.6"/>
<path d="M640.55 273.55L643.7 279.06L637.4 279.06Z" fill="#C0504D"/>
<text x="650.6" y="280.27" font-size="10.8" text-anchor="start">C10</text>
<path d="M632 290.1H649.1" stroke="#9BBB59" stroke-width="1.6"/>
<path d="M640.55 287.37L643.28 290.1L640.55 292.83L637.82 290.1Z" fill="#9BBB59"/>
<text x="650.6" y="293.67" font-size="10.8" text-anchor="start">C9</text>
<text transform="translate(411 329) rotate(-90)" x="0" y="4.07" font-size="12.3" text-anchor="middle">WA (g/g)</text>
</svg>
</body></html>
